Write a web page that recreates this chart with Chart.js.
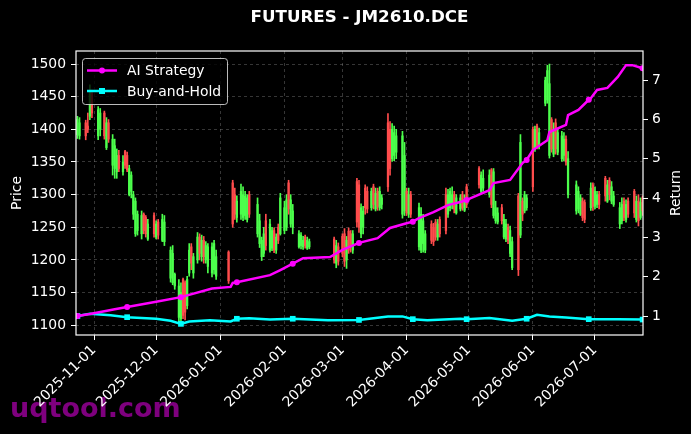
<!DOCTYPE html>
<html>
<head>
<meta charset="utf-8">
<title>FUTURES - JM2610.DCE</title>
<script src="https://cdn.jsdelivr.net/npm/chart.js@4.4.1/dist/chart.umd.min.js"></script>
<style>
  html, body { margin: 0; padding: 0; background: #000; }
  canvas { display: block; }
</style>
</head>
<body>
<canvas id="futuresChart" width="691" height="434"></canvas>
<script>
// x values are days counted from 2025-11-01
const tickDays = [0, 30, 61, 92, 120, 151, 181, 212, 242];
const tickLabels = ["2025-11-01", "2025-12-01", "2026-01-01", "2026-02-01", "2026-03-01",
  "2026-04-01", "2026-05-01", "2026-06-01", "2026-07-01"];
const priceTicks = [1100, 1150, 1200, 1250, 1300, 1350, 1400, 1450, 1500];
const returnTicks = [1, 2, 3, 4, 5, 6, 7];

const candleDays = [
  -8, -7, -4, -3, -2, -1, 2, 3, 5, 6, 7, 9,
  10, 11, 12, 14, 15, 16, 17, 18, 19, 20, 21, 23,
  24, 25, 26, 29, 30, 31, 33, 34, 37, 38, 39, 41,
  42, 43, 44, 45, 46, 47, 48, 50, 51, 52, 53, 54,
  55, 57, 58, 59, 65, 67, 68, 69, 71, 72, 73, 74,
  75, 79, 80, 81, 82, 83, 85, 86, 87, 88, 89, 90,
  92, 93, 94, 95, 96, 99, 100, 101, 102, 103, 104, 116,
  117, 118, 120, 121, 122, 123, 124, 125, 127, 128, 129, 130,
  131, 132, 134, 135, 136, 137, 138, 139, 142, 143, 144, 145,
  146, 149, 150, 151, 152, 153, 157, 158, 159, 160, 163, 164,
  165, 166, 167, 170, 171, 172, 173, 174, 175, 177, 178, 179,
  180, 186, 187, 188, 191, 192, 193, 194, 195, 197, 198, 199,
  200, 201, 202, 205, 206, 207, 208, 209, 212, 213, 214, 215,
  218, 219, 220, 221, 222, 223, 224, 226, 227, 228, 229, 233,
  234, 235, 236, 237, 240, 241, 242, 243, 244, 247, 248, 249,
  250, 251, 254, 255, 256, 257, 258, 261, 262, 263, 264, 265
];
const candleOpen = [
  1392, 1390, 1410, 1405, 1420, 1455, 1390, 1400, 1425, 1372, 1410, 1345,
  1340, 1335, 1360, 1335, 1366, 1360, 1300, 1305, 1270, 1240, 1245, 1240,
  1270, 1265, 1232, 1268, 1235, 1258, 1230, 1228, 1172, 1165, 1160, 1112,
  1110, 1170, 1165, 1130, 1180, 1220, 1180, 1200, 1235, 1205, 1230, 1200,
  1190, 1180, 1185, 1175, 1212, 1318, 1300, 1265, 1270, 1265, 1268, 1262,
  1300, 1240, 1225, 1205, 1210, 1260, 1215, 1218, 1245, 1215, 1250, 1240,
  1245, 1250, 1318, 1255, 1250, 1220, 1222, 1220, 1235, 1218, 1220, 1232,
  1195, 1220, 1236, 1240, 1200, 1244, 1240, 1215, 1320, 1315, 1240, 1250,
  1310, 1305, 1280, 1312, 1278, 1305, 1280, 1285, 1410, 1400, 1355, 1360,
  1365, 1270, 1275, 1305, 1270, 1300, 1220, 1215, 1225, 1215, 1255, 1250,
  1258, 1235, 1262, 1300, 1270, 1280, 1285, 1300, 1272, 1278, 1300, 1276,
  1312, 1340, 1305, 1310, 1300, 1338, 1268, 1260, 1258, 1280, 1235, 1232,
  1250, 1210, 1188, 1298, 1238, 1290, 1275, 1280, 1400, 1370, 1405, 1375,
  1440, 1445, 1360, 1415, 1362, 1410, 1365, 1355, 1360, 1385, 1300, 1275,
  1278, 1270, 1290, 1288, 1280, 1315, 1282, 1285, 1300, 1325, 1290, 1322,
  1290, 1285, 1255, 1260, 1290, 1262, 1290, 1305, 1262, 1290, 1265, 1295
];
const candleHigh = [
  1420, 1418, 1414, 1425, 1468, 1460, 1435, 1432, 1428, 1418, 1415, 1392,
  1385, 1370, 1368, 1360, 1368, 1365, 1345, 1335, 1305, 1295, 1275, 1275,
  1272, 1268, 1262, 1272, 1260, 1262, 1270, 1268, 1220, 1222, 1180, 1170,
  1165, 1172, 1168, 1175, 1225, 1225, 1210, 1242, 1240, 1238, 1236, 1228,
  1225, 1226, 1230, 1215, 1214, 1322, 1310, 1298, 1316, 1312, 1305, 1300,
  1305, 1295, 1270, 1235, 1250, 1270, 1262, 1250, 1249, 1240, 1255, 1302,
  1290, 1300, 1322, 1300, 1285, 1245, 1242, 1236, 1238, 1235, 1232, 1235,
  1230, 1226, 1240, 1248, 1236, 1249, 1245, 1245, 1325, 1322, 1286, 1282,
  1315, 1312, 1310, 1316, 1310, 1310, 1312, 1300, 1424, 1412, 1409, 1405,
  1400, 1397, 1380, 1310, 1310, 1305, 1287, 1280, 1270, 1245, 1260, 1256,
  1262, 1262, 1266, 1310, 1308, 1310, 1312, 1305, 1300, 1300, 1305, 1300,
  1316, 1343, 1335, 1338, 1338, 1340, 1340, 1290, 1280, 1285, 1270, 1262,
  1255, 1252, 1235, 1302, 1392, 1295, 1305, 1300, 1404, 1405, 1408, 1402,
  1480, 1498, 1500, 1418, 1410, 1416, 1400, 1397, 1395, 1390, 1366, 1321,
  1312, 1300, 1295, 1292, 1318, 1318, 1312, 1305, 1305, 1328, 1322, 1326,
  1320, 1305, 1288, 1295, 1295, 1292, 1295, 1308, 1298, 1300, 1295, 1298
];
const candleLow = [
  1386, 1385, 1384, 1395, 1415, 1418, 1384, 1390, 1385, 1369, 1380, 1330,
  1325, 1325, 1335, 1330, 1340, 1335, 1298, 1295, 1262, 1236, 1238, 1232,
  1240, 1235, 1230, 1235, 1232, 1232, 1228, 1222, 1166, 1162, 1155, 1105,
  1106, 1110, 1108, 1125, 1175, 1185, 1172, 1195, 1200, 1198, 1195, 1195,
  1180, 1174, 1178, 1170, 1164, 1250, 1262, 1258, 1262, 1260, 1262, 1258,
  1265, 1235, 1219, 1199, 1205, 1215, 1212, 1214, 1211, 1210, 1225, 1238,
  1240, 1245, 1270, 1250, 1240, 1218, 1217, 1216, 1218, 1216, 1217, 1195,
  1188, 1192, 1205, 1190, 1187, 1210, 1212, 1210, 1250, 1242, 1234, 1240,
  1270, 1272, 1276, 1278, 1275, 1276, 1276, 1278, 1305, 1330, 1351, 1352,
  1355, 1264, 1268, 1268, 1265, 1265, 1215, 1211, 1212, 1211, 1225, 1222,
  1230, 1230, 1235, 1240, 1265, 1275, 1278, 1272, 1270, 1275, 1276, 1274,
  1280, 1310, 1302, 1305, 1296, 1280, 1264, 1256, 1255, 1255, 1232, 1228,
  1225, 1205, 1185, 1176, 1234, 1260, 1272, 1276, 1305, 1366, 1370, 1370,
  1436, 1440, 1356, 1365, 1358, 1362, 1361, 1351, 1352, 1345, 1295, 1270,
  1272, 1268, 1260, 1257, 1276, 1276, 1278, 1280, 1278, 1290, 1288, 1292,
  1286, 1282, 1248, 1255, 1260, 1258, 1265, 1265, 1258, 1252, 1262, 1268
];
const candleClose = [
  1415, 1410, 1390, 1400, 1460, 1425, 1430, 1425, 1390, 1410, 1385, 1385,
  1375, 1360, 1340, 1350, 1345, 1338, 1340, 1330, 1300, 1290, 1270, 1268,
  1245, 1240, 1255, 1240, 1255, 1238, 1262, 1258, 1215, 1210, 1178, 1160,
  1150, 1115, 1120, 1170, 1215, 1195, 1205, 1235, 1210, 1230, 1205, 1222,
  1220, 1220, 1225, 1205, 1168, 1255, 1270, 1290, 1305, 1300, 1298, 1295,
  1270, 1285, 1260, 1230, 1240, 1222, 1255, 1245, 1215, 1235, 1230, 1295,
  1280, 1292, 1278, 1292, 1275, 1240, 1238, 1230, 1222, 1230, 1228, 1200,
  1222, 1198, 1210, 1198, 1230, 1215, 1220, 1240, 1258, 1250, 1280, 1275,
  1280, 1278, 1305, 1285, 1302, 1282, 1305, 1295, 1312, 1340, 1400, 1395,
  1390, 1390, 1360, 1272, 1300, 1270, 1280, 1270, 1260, 1240, 1230, 1228,
  1235, 1255, 1240, 1245, 1300, 1305, 1300, 1278, 1295, 1295, 1280, 1292,
  1285, 1315, 1330, 1325, 1330, 1285, 1335, 1280, 1272, 1260, 1262, 1255,
  1230, 1245, 1228, 1185, 1380, 1270, 1300, 1295, 1312, 1400, 1375, 1395,
  1475, 1490, 1470, 1370, 1400, 1370, 1395, 1390, 1385, 1350, 1355, 1315,
  1305, 1295, 1265, 1262, 1310, 1282, 1305, 1300, 1285, 1298, 1315, 1300,
  1312, 1298, 1280, 1285, 1265, 1285, 1270, 1272, 1290, 1260, 1288, 1275
];

const aiDays = [-8, -2, 5, 10, 16, 30, 42, 57, 66, 67, 69, 85, 90, 96, 101, 114, 120, 128,
  137, 143, 151, 154, 157, 164, 171, 177, 180, 182, 191, 193, 201, 207, 209, 212, 219,
  220, 228, 229, 234, 239, 240, 243, 248, 253, 257, 260, 265];
const aiReturn = [1.00, 1.05, 1.12, 1.17, 1.23, 1.36, 1.48, 1.70, 1.74, 1.84, 1.86, 2.04, 2.17,
  2.33, 2.47, 2.50, 2.68, 2.86, 2.98, 3.24, 3.36, 3.40, 3.49, 3.64, 3.82, 3.90, 3.95, 4.00,
  4.20, 4.38, 4.46, 4.89, 4.97, 5.22, 5.47, 5.68, 5.86, 6.11, 6.24, 6.50, 6.54, 6.75, 6.80,
  7.08, 7.38, 7.38, 7.30];

const holdDays = [-8, -2, 8, 16, 30, 37, 42, 46, 56, 66, 69, 75, 85, 96, 113, 128, 142, 149,
  154, 161, 177, 180, 191, 202, 209, 214, 220, 228, 239, 253, 265];
const holdReturn = [1.00, 1.06, 1.02, 0.97, 0.93, 0.88, 0.80, 0.86, 0.89, 0.86, 0.93, 0.94,
  0.91, 0.93, 0.89, 0.90, 0.99, 0.99, 0.92, 0.89, 0.93, 0.92, 0.95, 0.88, 0.93, 1.03, 0.99,
  0.96, 0.92, 0.92, 0.91];

const markerDays = [-8, 16, 42, 69, 96, 128, 154, 180, 209, 239, 265];

const fontFamily = "'DejaVu Sans', sans-serif";
const upColor = "#4cff4c";
const downColor = "#ff4c4c";
const aiColor = "#ff00ff";
const holdColor = "#00ffff";
const gridColor = "rgba(140,140,140,0.55)";

Chart.defaults.font.family = fontFamily;
Chart.defaults.color = "#ffffff";

function candleColor(ctx) {
  const i = ctx.dataIndex;
  return candleClose[i] >= candleOpen[i] ? upColor : downColor;
}

function markerSize(days, size) {
  return (ctx) => (markerDays.includes(days[ctx.dataIndex]) ? size : 0);
}

const wickData = candleDays.map((d, i) => ({ x: d, y: [candleLow[i], candleHigh[i]] }));
const bodyData = candleDays.map((d, i) => ({ x: d, y: [candleOpen[i], candleClose[i]] }));
const aiData = aiDays.map((d, i) => ({ x: d, y: aiReturn[i] }));
const holdData = holdDays.map((d, i) => ({ x: d, y: holdReturn[i] }));

// watermark under the axis labels, title centred over the plot
const watermark = {
  id: "watermark",
  beforeDraw(chart) {
    const { ctx, chartArea } = chart;
    ctx.save();
    ctx.font = "bold 27px " + fontFamily;
    ctx.fillStyle = "rgba(140,0,140,0.9)";
    ctx.textBaseline = "alphabetic";
    ctx.fillText("uqtool.com", 10, 417);
    ctx.font = "bold 16.7px " + fontFamily;
    ctx.fillStyle = "#ffffff";
    ctx.textAlign = "center";
    ctx.textBaseline = "middle";
    ctx.fillText("FUTURES - JM2610.DCE", (chartArea.left + chartArea.right) / 2, 18);
    ctx.restore();
  },
};

// spines, right axis label and the legend box inside the plot
const frameAndLegend = {
  id: "frameAndLegend",
  afterDatasetsDraw(chart) {
    const { ctx, chartArea } = chart;
    ctx.save();
    ctx.strokeStyle = "#ffffff";
    ctx.lineWidth = 1.2;
    ctx.strokeRect(chartArea.left, chartArea.top, chartArea.right - chartArea.left, chartArea.bottom - chartArea.top);
    ctx.restore();
  },
  afterDraw(chart) {
    const { ctx, chartArea } = chart;
    ctx.save();
    ctx.font = "13.9px " + fontFamily;
    ctx.fillStyle = "#ffffff";
    ctx.textAlign = "center";
    ctx.textBaseline = "middle";
    ctx.translate(676, (chartArea.top + chartArea.bottom) / 2);
    ctx.rotate(-Math.PI / 2);
    ctx.fillText("Return", 0, 0);
    ctx.restore();

    const bx = chartArea.left + 6, by = chartArea.top + 7, bw = 145, bh = 46;
    ctx.save();
    ctx.beginPath();
    ctx.roundRect(bx + 0.5, by + 0.5, bw, bh, 3);
    ctx.fillStyle = "rgba(0,0,0,0.8)";
    ctx.fill();
    ctx.strokeStyle = "rgba(220,220,220,0.85)";
    ctx.lineWidth = 1;
    ctx.stroke();
    const entries = [
      { text: "AI Strategy", color: aiColor, square: false },
      { text: "Buy-and-Hold", color: holdColor, square: true },
    ];
    entries.forEach((e, k) => {
      const y = by + 12.5 + k * 20.5;
      ctx.strokeStyle = e.color;
      ctx.fillStyle = e.color;
      ctx.lineWidth = 2.5;
      ctx.beginPath();
      ctx.moveTo(bx + 5, y);
      ctx.lineTo(bx + 35, y);
      ctx.stroke();
      if (e.square) {
        ctx.fillRect(bx + 17, y - 3, 6, 6);
      } else {
        ctx.beginPath();
        ctx.arc(bx + 20, y, 3, 0, Math.PI * 2);
        ctx.fill();
      }
      ctx.fillStyle = "#ffffff";
      ctx.font = "13.9px " + fontFamily;
      ctx.textAlign = "left";
      ctx.textBaseline = "middle";
      ctx.fillText(e.text, bx + 45, y + 1);
    });
    ctx.restore();
  },
};

new Chart(document.getElementById("futuresChart"), {
  type: "bar",
  data: {
    datasets: [
      {
        label: "AI Strategy",
        type: "line",
        data: aiData,
        yAxisID: "y1",
        borderColor: aiColor,
        backgroundColor: aiColor,
        borderWidth: 2.5,
        pointStyle: "circle",
        pointRadius: markerSize(aiDays, 3),
        pointBorderWidth: 0,
        pointBackgroundColor: aiColor,
        tension: 0,
        order: 0,
      },
      {
        label: "Buy-and-Hold",
        type: "line",
        data: holdData,
        yAxisID: "y1",
        borderColor: holdColor,
        backgroundColor: holdColor,
        borderWidth: 2.5,
        pointStyle: "rect",
        pointRadius: markerSize(holdDays, 4),
        pointBorderWidth: 0,
        pointBackgroundColor: holdColor,
        tension: 0,
        order: 1,
      },
      {
        label: "wick",
        data: wickData,
        yAxisID: "y",
        backgroundColor: candleColor,
        barThickness: 1,
        grouped: false,
        borderWidth: 0,
        order: 3,
      },
      {
        label: "body",
        data: bodyData,
        yAxisID: "y",
        backgroundColor: candleColor,
        barThickness: 1.6,
        grouped: false,
        borderWidth: 0,
        order: 2,
      },
    ],
  },
  options: {
    responsive: false,
    animation: false,
    devicePixelRatio: 1,
    events: [],
    layout: { padding: { top: 51 } },
    plugins: {
      legend: { display: false },
      tooltip: { enabled: false },
      title: { display: false },
    },
    scales: {
      x: {
        type: "linear",
        min: -8.7,
        max: 265.2,
        offset: false,
        afterBuildTicks: (scale) => {
          scale.ticks = tickDays.map((v) => ({ value: v }));
        },
        afterFit: (scale) => {
          scale.height = 99;
        },
        ticks: {
          autoSkip: false,
          minRotation: 45,
          maxRotation: 45,
          padding: 2,
          color: "#ffffff",
          font: { size: 13.9 },
          callback: (v) => tickLabels[tickDays.indexOf(v)],
        },
        grid: {
          offset: false,
          color: gridColor,
          lineWidth: 0.7,
          tickColor: "#ffffff",
          tickLength: 5,
          tickWidth: 1,
        },
        border: { display: false, dash: [3, 3] },
      },
      y: {
        position: "left",
        min: 1085,
        max: 1520,
        afterBuildTicks: (scale) => {
          scale.ticks = priceTicks.map((v) => ({ value: v }));
        },
        afterFit: (scale) => {
          scale.width = 76;
        },
        ticks: { color: "#ffffff", padding: 5, font: { size: 13.9 }, callback: (v) => String(v) },
        grid: {
          color: gridColor,
          lineWidth: 0.7,
          tickColor: "#ffffff",
          tickLength: 5,
          tickWidth: 1,
        },
        border: { display: false, dash: [3, 3] },
        title: {
          display: true,
          text: "Price",
          color: "#ffffff",
          font: { size: 13.9 },
          padding: { top: 9, bottom: 0 },
        },
      },
      y1: {
        position: "right",
        min: 0.517,
        max: 7.74,
        afterBuildTicks: (scale) => {
          scale.ticks = returnTicks.map((v) => ({ value: v }));
        },
        afterFit: (scale) => {
          scale.width = 48;
        },
        ticks: { color: "#ffffff", padding: 4, font: { size: 13.9 } },
        grid: {
          drawOnChartArea: false,
          tickColor: "#ffffff",
          tickLength: 5,
          tickWidth: 1,
        },
        border: { display: false },
      },
    },
  },
  plugins: [watermark, frameAndLegend],
});
</script>
</body>
</html>
